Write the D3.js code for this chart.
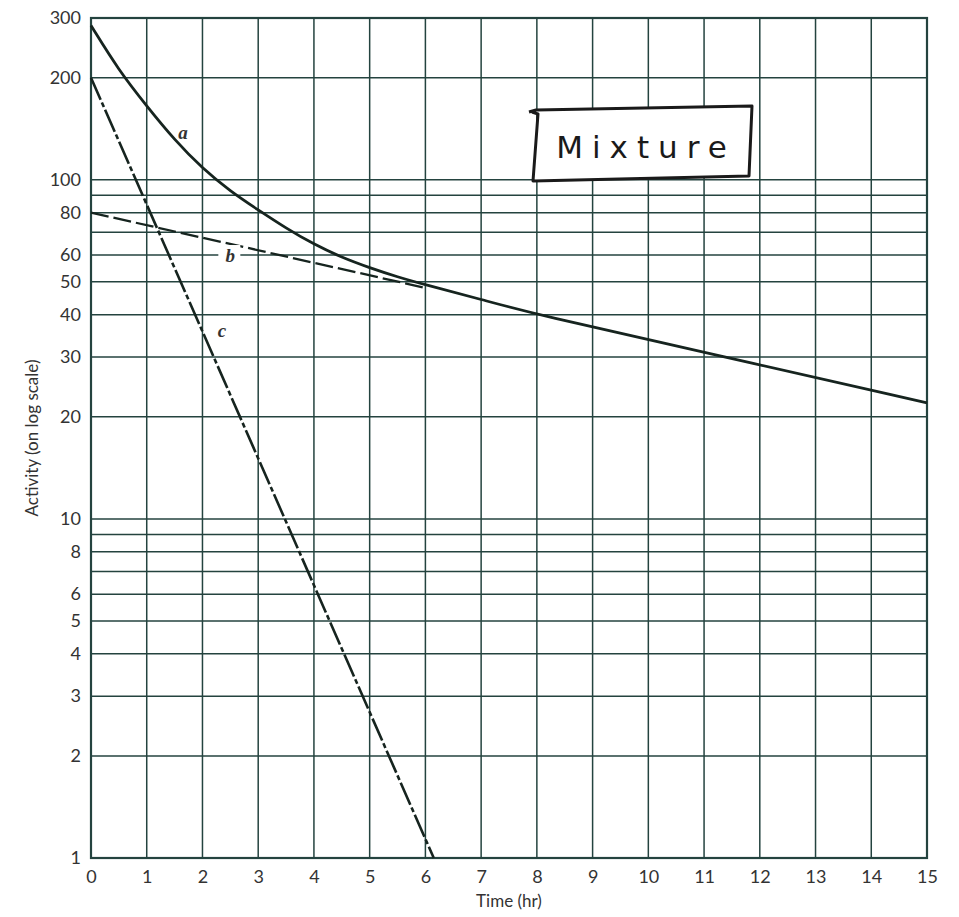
<!DOCTYPE html>
<html>
<head>
<meta charset="utf-8">
<script src="https://cdn.jsdelivr.net/npm/d3@7"></script>
<style>
  body { margin: 0; background: #fff; }
  svg { display: block; }
</style>
</head>
<body>
<div id="chart"></div>
<script>
// values
const xTicks = [0,1,2,3,4,5,6,7,8,9,10,11,12,13,14,15];
const yGrid = [1,2,3,4,5,6,7,8,9,10,20,30,40,50,60,70,80,90,100,200,300];
const yLabels = [1,2,3,4,5,6,8,10,20,30,40,50,60,80,100,200,300];

// a: total activity of the mixture
const curveA = [
    {t:0, v:285}, {t:0.5, v:210}, {t:1, v:165}, {t:1.5, v:131},
    {t:2, v:108}, {t:2.5, v:92.5}, {t:3, v:81.5}, {t:3.5, v:72},
    {t:4, v:64.5}, {t:4.5, v:59}, {t:5, v:55}, {t:5.5, v:51.7},
    {t:6, v:49}, {t:7, v:44.4}, {t:8, v:40}, {t:11, v:31}, {t:15, v:22}
];
// b: long-lived component (dashed extrapolation back to t=0)
const curveB = [ {t:0, v:80}, {t:6, v:48} ];
// c: short-lived component
const curveC = [ {t:0, v:200}, {t:6.15, v:1} ];

const width = 959, height = 917;
const margin = { left:91, right:32, top:18, bottom:59 };
const gridColor = '#24433f';
const inkColor = '#16241f';

let svg = d3.select('#chart').append('svg')
    .attr('width', width)
    .attr('height', height);

let xScale = d3.scaleLinear()
    .domain([0, 15])
    .range([margin.left, width - margin.right]);

let yScale = d3.scaleLog()
    .domain([1, 300])
    .range([height - margin.bottom, margin.top]);

// grid
svg.append('g').selectAll('line')
    .data(yGrid)
    .enter().append('line')
    .attr('x1', xScale(0)).attr('x2', xScale(15))
    .attr('y1', d => yScale(d)).attr('y2', d => yScale(d))
    .attr('stroke', gridColor)
    .attr('stroke-width', 1.5);

svg.append('g').selectAll('line')
    .data(xTicks)
    .enter().append('line')
    .attr('x1', d => xScale(d)).attr('x2', d => xScale(d))
    .attr('y1', yScale(1)).attr('y2', yScale(300))
    .attr('stroke', gridColor)
    .attr('stroke-width', 1.5);

// frame
svg.append('rect')
    .attr('x', xScale(0)).attr('y', yScale(300))
    .attr('width', xScale(15) - xScale(0))
    .attr('height', yScale(1) - yScale(300))
    .attr('fill', 'none')
    .attr('stroke', gridColor)
    .attr('stroke-width', 2.2);

// axes (labels only, grid drawn above)
let xAxis = d3.axisBottom(xScale)
    .tickValues(xTicks)
    .tickSize(0)
    .tickPadding(12);

let yAxis = d3.axisLeft(yScale)
    .tickValues(yLabels)
    .tickFormat(d3.format('d'))
    .tickSize(0)
    .tickPadding(10);

let gx = svg.append('g')
    .attr('transform', 'translate(0,' + yScale(1) + ')')
    .call(xAxis);
let gy = svg.append('g')
    .attr('transform', 'translate(' + xScale(0) + ',0)')
    .call(yAxis);

[gx, gy].forEach(g => {
    g.select('.domain').remove();
    g.selectAll('text')
        .attr('fill', '#333')
        .style('font-family', 'Lato, "DejaVu Sans", sans-serif')
        .style('font-size', '18px');
});

svg.append('text')
    .attr('x', (xScale(0) + xScale(15)) / 2)
    .attr('y', 907)
    .attr('text-anchor', 'middle')
    .attr('fill', '#333')
    .style('font-family', 'Lato, "DejaVu Sans", sans-serif')
    .style('font-size', '17px')
    .text('Time (hr)');

svg.append('text')
    .attr('transform', 'translate(38,' + ((yScale(1) + yScale(300)) / 2) + ') rotate(-90)')
    .attr('text-anchor', 'middle')
    .attr('fill', '#333')
    .style('font-family', 'Lato, "DejaVu Sans", sans-serif')
    .style('font-size', '17px')
    .text('Activity (on log scale)');

// curves
let line = d3.line()
    .x(d => xScale(d.t))
    .y(d => yScale(d.v));

svg.append('path')
    .attr('fill', 'none')
    .attr('stroke', inkColor)
    .attr('stroke-width', 2.8)
    .attr('d', line.curve(d3.curveBasis)(curveA));

svg.append('path')
    .attr('fill', 'none')
    .attr('stroke', inkColor)
    .attr('stroke-width', 2.3)
    .attr('stroke-dasharray', '18,5')
    .attr('d', line.curve(d3.curveLinear)(curveB));

svg.append('path')
    .attr('fill', 'none')
    .attr('stroke', inkColor)
    .attr('stroke-width', 2.6)
    .attr('stroke-dasharray', '24,3,5,3')
    .attr('d', line.curve(d3.curveLinear)(curveC));

// curve labels
const labelFont = '"Liberation Serif", "DejaVu Serif", serif';
svg.append('rect')
    .attr('x', xScale(2.5) - 12).attr('y', yScale(60) - 10)
    .attr('width', 22).attr('height', 20)
    .attr('fill', '#fff');

[
    {txt:'a', t:1.65, v:138},
    {txt:'b', t:2.5, v:60},
    {txt:'c', t:2.35, v:36}
].forEach(d => {
    svg.append('text')
        .attr('x', xScale(d.t))
        .attr('y', yScale(d.v))
        .attr('dy', '0.35em')
        .attr('text-anchor', 'middle')
        .attr('fill', '#333')
        .style('font-family', labelFont)
        .style('font-style', 'italic')
        .style('font-weight', 'bold')
        .style('font-size', '19px')
        .text(d.txt);
});

// hand drawn "Mixture" box
svg.append('path')
    .attr('d', 'M529,112 L536,110 L752,106 L749,176 L533,181 L538,114 L532,112')
    .attr('fill', '#fff')
    .attr('stroke', '#1a1a1a')
    .attr('stroke-width', 3)
    .attr('stroke-linejoin', 'round');

svg.append('text')
    .attr('x', 646)
    .attr('y', 158)
    .attr('text-anchor', 'middle')
    .attr('fill', '#1a1a1a')
    .style('font-family', '"DejaVu Sans", sans-serif')
    .style('font-size', '31px')
    .style('letter-spacing', '9px')
    .text('Mixture');
</script>
</body>
</html>
